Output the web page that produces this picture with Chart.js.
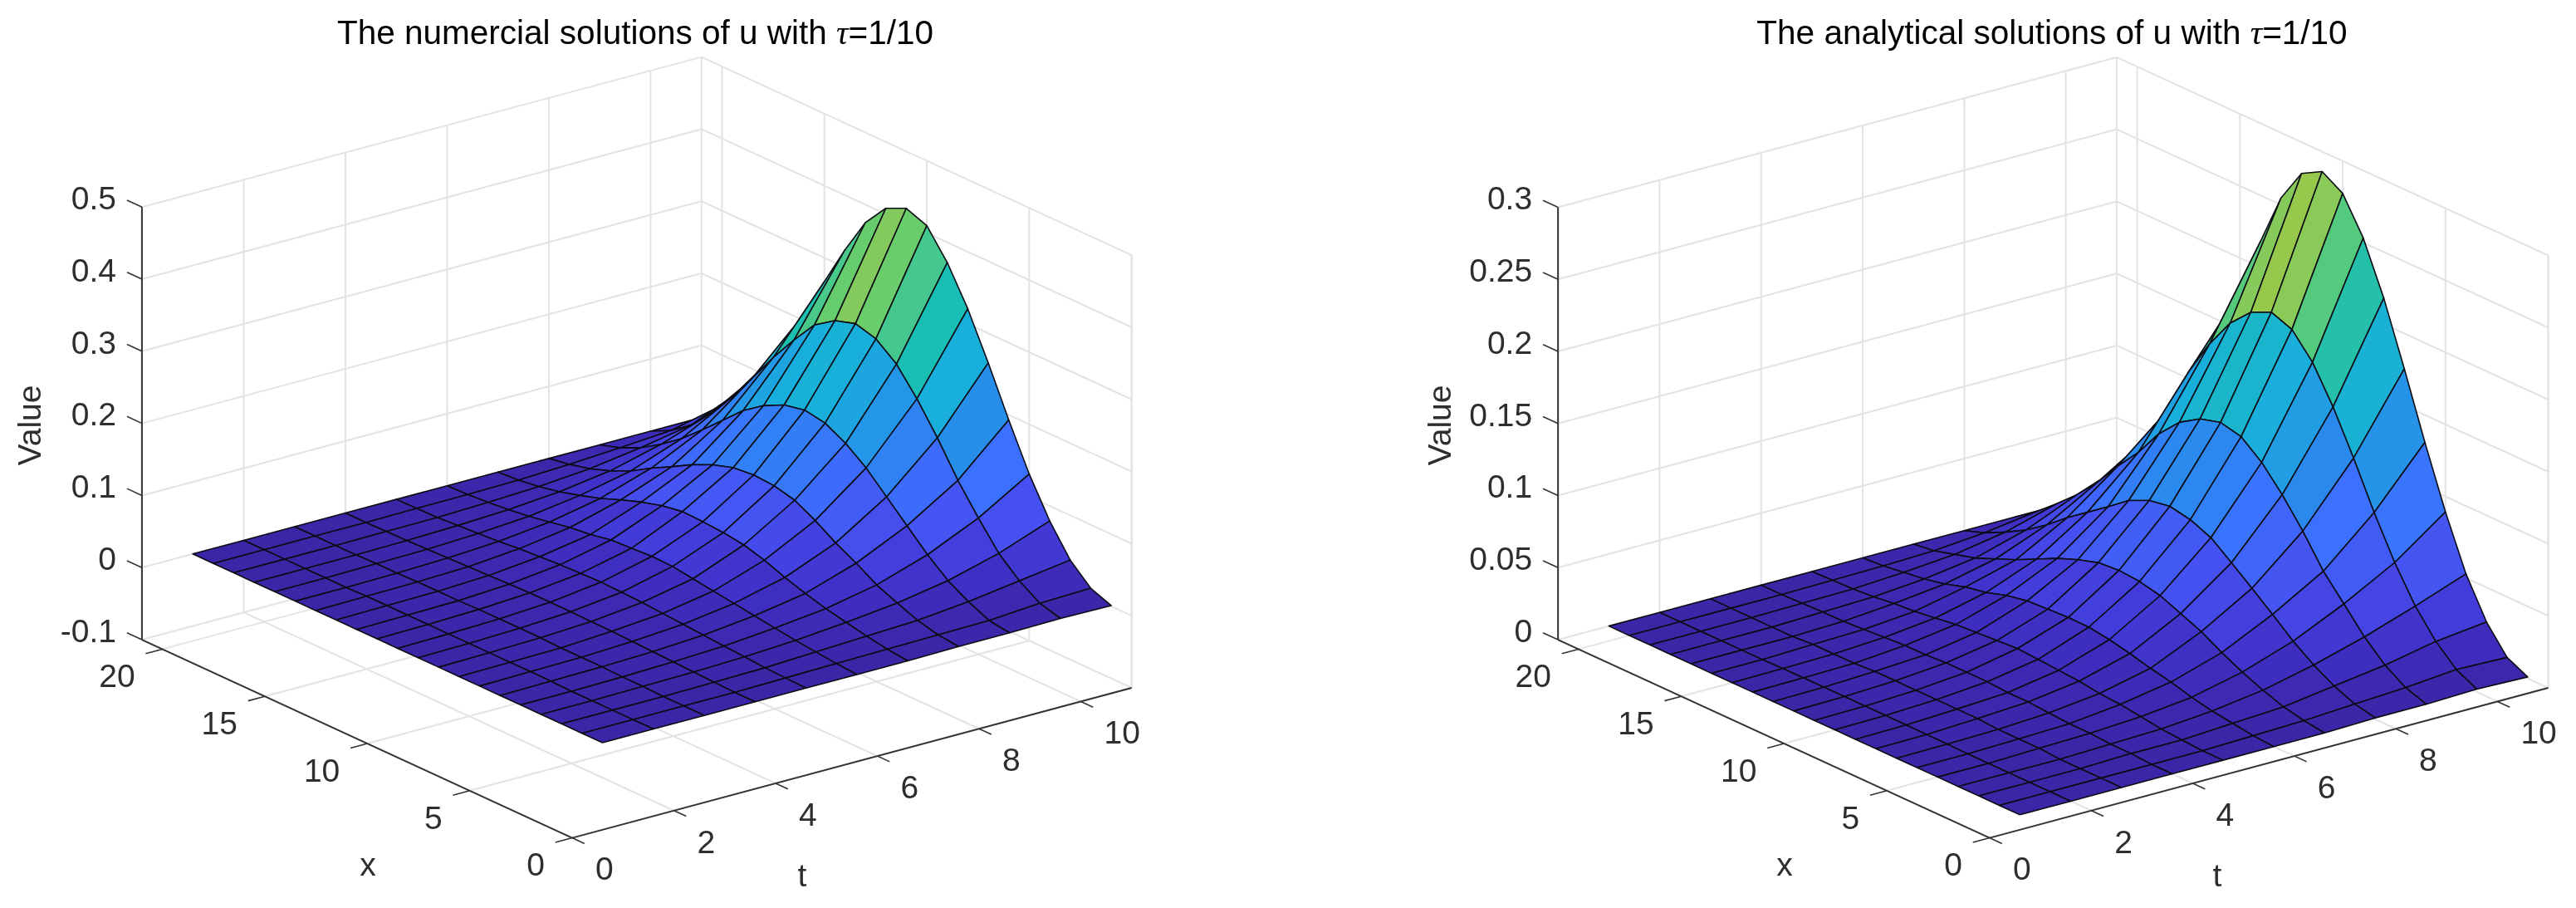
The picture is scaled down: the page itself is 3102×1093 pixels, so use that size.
<!DOCTYPE html>
<html lang="en">
<head>
  <meta charset="UTF-8" />
  <title>Numerical and analytical solutions of u</title>
  <style>
    html, body { margin: 0; padding: 0; background: #fff; overflow: hidden; }
    canvas { position: absolute; top: 0; }
    #numericalChart { left: 0; }
    #analyticalChart { left: 1551px; }
  </style>
</head>
<body>
  <canvas id="numericalChart" width="1551" height="1093"></canvas>
  <canvas id="analyticalChart" width="1551" height="1093"></canvas>

  <script src="https://cdn.jsdelivr.net/npm/chart.js"></script>
  <script>
    // grid of the surface: one row per t, one value per x
    const tGrid = [1, 2, 3, 4, 5, 6, 7, 8, 9, 10, 11];
    const xGrid = [1, 2, 3, 4, 5, 6, 7, 8, 9, 10, 11, 12, 13, 14, 15, 16, 17, 18, 19, 20, 21];

    const tTicks = [0, 2, 4, 6, 8, 10];
    const xTicks = [0, 5, 10, 15, 20];
    const valueTicksNumerical = [-0.1, 0, 0.1, 0.2, 0.3, 0.4, 0.5];
    const valueTicksAnalytical = [0, 0.05, 0.1, 0.15, 0.2, 0.25, 0.3];

    // values, rows are t = 1 .. 11
    const numericalT1 = [0, 0, 0, 0, 0, 0, 0, 0, 0, 0, 0, 0, 0, 0, 0, 0, 0, 0, 0, 0, 0];
    const numericalT2 = [0, 0, 0, 0, 0, .001, .001, .001, .001, .001, .001, .001, .001, .001, .001, 0, 0, 0, 0, 0, 0];
    const numericalT3 = [0, 0, 0, .001, .001, .002, .002, .002, .003, .003, .003, .003, .002, .002, .002, .001, .001, 0, 0, 0, 0];
    const numericalT4 = [0, 0, .001, .002, .003, .004, .005, .006, .0065, .007, .007, .007, .006, .005, .004, .003, .002, .001, .0005, 0, 0];
    const numericalT5 = [0, .001, .002, .004, .006, .008, .010, .012, .014, .015, .016, .015, .014, .012, .010, .007, .005, .003, .001, .0005, 0];
    const numericalT6 = [0, .002, .005, .008, .012, .016, .020, .024, .028, .032, .033, .031, .0295, .024, .0206, .015, .010, .006, .003, .001, 0];
    const numericalT7 = [0, .003, .008, .014, .020, .028, .037, .048, .056, .060, .062, .063, .058, .050, .040, .029, .020, .012, .006, .002, 0];
    const numericalT8 = [.001, .004, .011, .022, .034, .051, .066, .084, .099, .106, .108, .105, .096, .083, .067, .052, .035, .022, .012, .005, 0];
    const numericalT9 = [.001, .005, .018, .034, .057, .084, .111, .138, .159, .174, .179, .173, .159, .139, .1125, .086, .061, .040, .022, .009, 0];
    const numericalT10 = [.002, .010, .028, .053, .089, .128, .174, .215, .250, .272, .280, .271, .252, .218, .181, .140, .100, .065, .035, .014, 0];
    const numericalT11 = [.001, .012, .038, .079, .131, .193, .259, .321, .372, .410, .421, .408, .375, .324, .267, .2085, .150, .105, .065, .030, 0];
    const numericalRows = [numericalT1, numericalT2, numericalT3, numericalT4, numericalT5, numericalT6,
      numericalT7, numericalT8, numericalT9, numericalT10, numericalT11];

    const analyticalT1 = [0, 0, 0, 0, 0, 0, 0, 0, 0, 0, 0, 0, 0, 0, 0, 0, 0, 0, 0, 0, 0];
    const analyticalT2 = [0, 0, 0, 0, 0, 0, .0003, .0004, .0005, .0005, .0005, .0005, .0005, .0004, .0003, 0, 0, 0, 0, 0, 0];
    const analyticalT3 = [0, 0, 0, 0, .001, .001, .001, .002, .002, .002, .002, .002, .002, .001, .001, .001, 0, 0, 0, 0, 0];
    const analyticalT4 = [0, 0, .001, .001, .002, .002, .003, .004, .004, .005, .005, .005, .004, .004, .003, .002, .001, .001, .0005, 0, 0];
    const analyticalT5 = [0, 0, .001, .002, .004, .006, .007, .009, .010, .011, .012, .011, .010, .009, .007, .005, .004, .002, .001, .0005, 0];
    const analyticalT6 = [0, .001, .003, .005, .008, .012, .015, .0187, .0218, .0239, .0241, .0233, .0225, .0198, .0152, .0125, .008, .005, .003, .001, 0];
    const analyticalT7 = [0, .002, .005, .010, .016, .023, .031, .037, .0429, .0461, .0473, .0461, .0416, .036, .029, .022, .016, .010, .006, .002, 0];
    const analyticalT8 = [.001, .004, .010, .018, .028, .040, .0516, .0628, .0736, .0795, .0823, .0798, .0732, .0624, .052, .0416, .030, .020, .012, .005, 0];
    const analyticalT9 = [.001, .006, .015, .028, .0444, .0605, .0818, .1005, .1164, .1277, .131, .1269, .118, .1035, .084, .068, .050, .035, .022, .010, 0];
    const analyticalT10 = [.002, .009, .022, .040, .0636, .0918, .123, .152, .1764, .1926, .198, .1914, .1774, .1565, .131, .098, .072, .048, .027, .011, 0];
    const analyticalT11 = [.001, .008, .026, .0528, .0893, .131, .1755, .218, .2532, .2775, .2862, .2783, .2548, .218, .176, .135, .098, .065, .040, .018, 0];
    const analyticalRows = [analyticalT1, analyticalT2, analyticalT3, analyticalT4, analyticalT5, analyticalT6,
      analyticalT7, analyticalT8, analyticalT9, analyticalT10, analyticalT11];

    // colormap stops as seen in the picture, [fraction of range, r, g, b]
    const COLORMAP = [
      [0, 60, 38, 168], [.03, 62, 44, 188], [.07, 66, 58, 215], [.126, 70, 80, 240],
      [.21, 60, 112, 255], [.3, 40, 142, 235], [.41, 25, 175, 220], [.51, 25, 190, 180],
      [.595, 70, 200, 140], [.648, 105, 205, 105], [.667, 133, 202, 93], [.7, 155, 200, 70],
      [.8, 215, 187, 48], [.9, 250, 200, 48], [1, 249, 251, 20]
    ];

    const GRID_COLOR = '#e3e3e3';
    const AXIS_COLOR = '#333333';
    const MESH_COLOR = '#0c0c14';
    const TEXT_COLOR = '#2e2e2e';
    const FONT_NAME = "'Liberation Sans', Arial, sans-serif";

    function colorFor(frac) {
      for (let i = 1; i < COLORMAP.length; i++) {
        if (frac <= COLORMAP[i][0]) {
          const a = COLORMAP[i - 1], b = COLORMAP[i];
          const k = (frac - a[0]) / (b[0] - a[0]);
          const c = [1, 2, 3].map(n => Math.round(a[n] + (b[n] - a[n]) * k));
          return `rgb(${c[0]},${c[1]},${c[2]})`;
        }
      }
      return 'rgb(249,251,20)';
    }

    // orthographic view of the box, numbers are page pixels
    function project(view, t, x, v) {
      return {
        x: view.originX + t * view.tStepX + x * view.xStepX,
        y: view.originY + t * view.tStepY + x * view.xStepY - (v - view.valueMin) * view.valueScale
      };
    }

    function segment(points, color, width) {
      return {
        data: points,
        borderColor: color,
        borderWidth: width,
        pointRadius: 0,
        fill: false,
        tension: 0,
        borderCapStyle: 'butt'
      };
    }

    function buildDatasets(panel) {
      const view = panel.view;
      const rows = panel.rows;
      const sets = [];
      const top = Math.max(...rows.map(r => Math.max(...r)));

      // first dataset ends up on top, so front cells go first
      for (let i = 0; i < tGrid.length - 1; i++) {
        for (let j = 0; j < xGrid.length - 1; j++) {
          sets.push({
            data: [
              project(view, tGrid[i], xGrid[j], rows[i][j]),
              project(view, tGrid[i + 1], xGrid[j], rows[i + 1][j]),
              project(view, tGrid[i + 1], xGrid[j + 1], rows[i + 1][j + 1]),
              project(view, tGrid[i], xGrid[j + 1], rows[i][j + 1]),
              project(view, tGrid[i], xGrid[j], rows[i][j])
            ],
            backgroundColor: colorFor(rows[i][j] / top),
            borderColor: MESH_COLOR,
            borderWidth: 1.6,
            borderJoinStyle: 'round',
            pointRadius: 0,
            tension: 0,
            fill: 'shape'
          });
        }
      }

      const vMin = view.valueMin;
      const vMax = panel.valueTicks[panel.valueTicks.length - 1];
      const tMax = view.tMax;
      const xMax = view.xMax;

      // axis lines and tick marks
      sets.push(segment([project(view, 0, xMax, vMin), project(view, 0, xMax, vMax)], AXIS_COLOR, 2));
      sets.push(segment([project(view, 0, 0, vMin), project(view, 0, xMax, vMin)], AXIS_COLOR, 2));
      sets.push(segment([project(view, 0, 0, vMin), project(view, tMax, 0, vMin)], AXIS_COLOR, 2));
      panel.valueTicks.forEach(v => {
        sets.push(segment([project(view, 0, xMax, v), project(view, 0, xMax + 0.73, v)], AXIS_COLOR, 1.6));
      });
      xTicks.forEach(x => {
        sets.push(segment([project(view, 0, x, vMin), project(view, -0.33, x, vMin)], AXIS_COLOR, 1.6));
      });
      tTicks.forEach(t => {
        sets.push(segment([project(view, t, 0, vMin), project(view, t, -0.6, vMin)], AXIS_COLOR, 1.6));
      });

      // grid on the floor and the two back walls
      xTicks.forEach(x => {
        sets.push(segment([project(view, 0, x, vMin), project(view, tMax, x, vMin)], GRID_COLOR, 2));
        sets.push(segment([project(view, tMax, x, vMin), project(view, tMax, x, vMax)], GRID_COLOR, 2));
      });
      tTicks.forEach(t => {
        sets.push(segment([project(view, t, 0, vMin), project(view, t, xMax, vMin)], GRID_COLOR, 2));
        sets.push(segment([project(view, t, xMax, vMin), project(view, t, xMax, vMax)], GRID_COLOR, 2));
      });
      panel.valueTicks.forEach(v => {
        sets.push(segment([project(view, 0, xMax, v), project(view, tMax, xMax, v)], GRID_COLOR, 2));
        sets.push(segment([project(view, tMax, xMax, v), project(view, tMax, 0, v)], GRID_COLOR, 2));
      });
      sets.push(segment([project(view, tMax, xMax, vMin), project(view, tMax, xMax, vMax)], GRID_COLOR, 2));
      sets.push(segment([project(view, tMax, 0, vMin), project(view, tMax, 0, vMax)], GRID_COLOR, 2));

      return sets;
    }

    // tick labels, axis names and title go on the canvas like Chart.js' own text
    const textPlugin = {
      id: 'panelText',
      afterDraw(chart, args, opts) {
        const panel = opts.panel;
        const view = panel.view;
        const sx = chart.scales.x, sy = chart.scales.y;
        const ctx = chart.ctx;
        const put = (str, px, py, align) => {
          ctx.textAlign = align;
          ctx.fillText(str, sx.getPixelForValue(px), sy.getPixelForValue(py));
        };
        ctx.save();
        ctx.textBaseline = 'middle';
        ctx.fillStyle = TEXT_COLOR;
        ctx.font = `39px ${FONT_NAME}`;
        panel.valueTicks.forEach(v => {
          const p = project(view, 0, view.xMax, v);
          put(String(v), p.x - 31, p.y - 8, 'right');
        });
        xTicks.forEach(x => {
          const p = project(view, 0, x, view.valueMin);
          put(String(x), p.x - 33, p.y + 35, 'right');
        });
        tTicks.forEach(t => {
          const p = project(view, t, 0, view.valueMin);
          put(String(t), p.x + 28, p.y + 40, 'left');
        });
        ctx.font = `39px ${FONT_NAME}`;
        put('x', panel.xLabel[0], panel.xLabel[1], 'center');
        put('t', panel.tLabel[0], panel.tLabel[1], 'center');
        ctx.save();
        ctx.translate(sx.getPixelForValue(panel.valueLabel[0]), sy.getPixelForValue(panel.valueLabel[1]));
        ctx.rotate(-Math.PI / 2);
        ctx.textAlign = 'center';
        ctx.fillText('Value', 0, 0);
        ctx.restore();

        // title is three pieces because tau is set in italics
        const pieces = [
          [panel.titleStart, `${panel.titleSize}px ${FONT_NAME}`],
          ['\u03C4', `italic ${panel.titleSize}px 'Liberation Serif', serif`],
          ['=1/10', `${panel.titleSize}px ${FONT_NAME}`]
        ];
        let width = 0;
        pieces.forEach(p => { ctx.font = p[1]; width += ctx.measureText(p[0]).width; });
        let cur = sx.getPixelForValue(panel.titleCenter) - width / 2;
        ctx.fillStyle = '#000';
        ctx.textAlign = 'left';
        ctx.textBaseline = 'alphabetic';
        pieces.forEach(p => {
          ctx.font = p[1];
          ctx.fillText(p[0], cur, sy.getPixelForValue(panel.titleBase));
          cur += ctx.measureText(p[0]).width;
        });
        ctx.restore();
      }
    };

    function drawPanel(canvasId, panel) {
      new Chart(document.getElementById(canvasId).getContext('2d'), {
        type: 'line',
        data: { datasets: buildDatasets(panel) },
        plugins: [textPlugin],
        options: {
          responsive: false,
          animation: false,
          parsing: false,
          normalized: false,
          events: [],
          layout: { padding: 0 },
          scales: {
            x: { type: 'linear', display: false, min: panel.pageLeft, max: panel.pageLeft + 1551 },
            y: { type: 'linear', display: false, min: 0, max: 1093, reverse: true }
          },
          plugins: {
            legend: { display: false },
            tooltip: { enabled: false },
            title: { display: false },
            panelText: { panel: panel }
          }
        }
      });
    }

    drawPanel('numericalChart', {
      pageLeft: 0,
      rows: numericalRows,
      valueTicks: valueTicksNumerical,
      titleStart: 'The numercial solutions of u with ',
      titleCenter: 765,
      titleBase: 53,
      titleSize: 40.5,
      xLabel: [443, 1043],
      tLabel: [966, 1056],
      valueLabel: [38, 512],
      view: {
        originX: 689, originY: 1008.6,
        tStepX: 61.25, tStepY: -16.42,
        xStepX: -24.67, xStepY: -11.36,
        valueMin: -0.1, valueScale: 868,
        tMax: 11, xMax: 21
      }
    });

    drawPanel('analyticalChart', {
      pageLeft: 1551,
      rows: analyticalRows,
      valueTicks: valueTicksAnalytical,
      titleStart: 'The analytical solutions of u with ',
      titleCenter: 2471,
      titleBase: 53,
      titleSize: 40.5,
      xLabel: [2149, 1043],
      tLabel: [2670, 1056],
      valueLabel: [1736, 512],
      view: {
        originX: 2395.9, originY: 1008.6,
        tStepX: 61.15, tStepY: -16.42,
        xStepX: -24.75, xStepY: -11.36,
        valueMin: 0, valueScale: 1735,
        tMax: 11, xMax: 21
      }
    });
  </script>
</body>
</html>
